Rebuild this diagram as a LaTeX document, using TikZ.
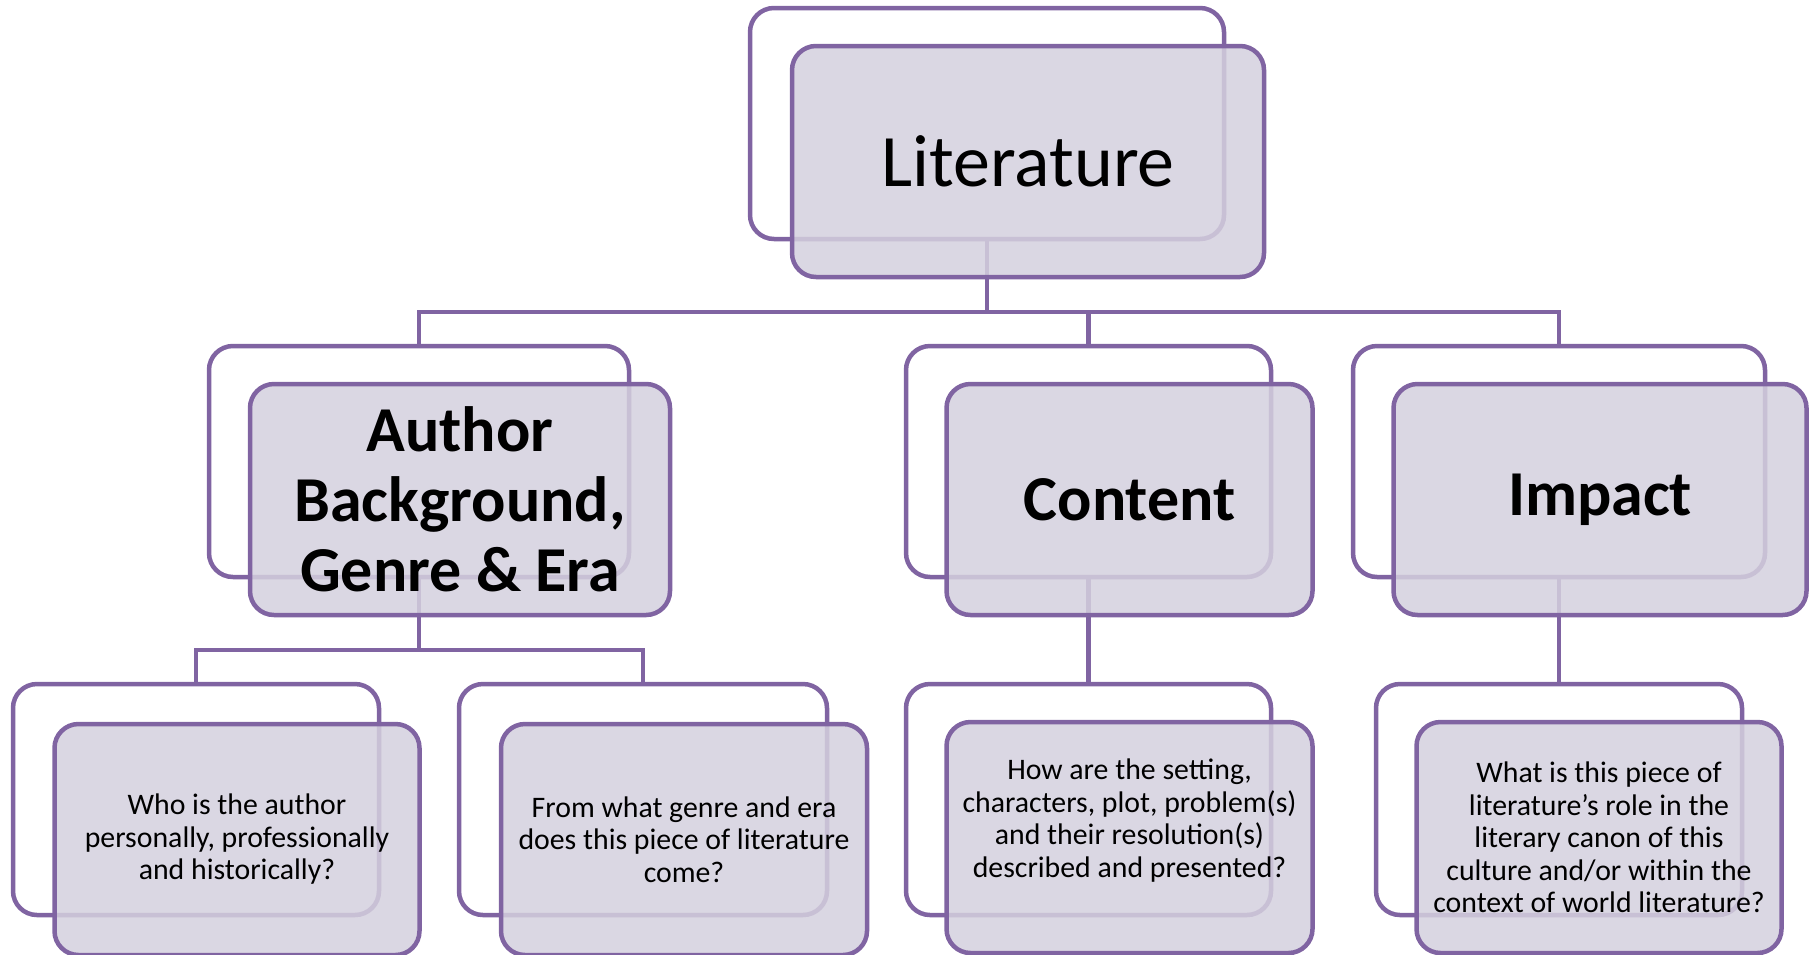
\documentclass[tikz,border=0pt]{standalone}
\usepackage{fontspec}
\setmainfont{Carlito}
\definecolor{boxline}{RGB}{128,100,162}
\definecolor{boxfill}{RGB}{212,208,222}
\tikzset{
  backbox/.style={draw=boxline, line width=4.5pt, rounded corners=24pt,
    minimum height=231pt, inner sep=0pt},
  frontbox/.style={backbox, fill=boxfill, fill opacity=0.86, text opacity=1,
    align=center},
  conn/.style={draw=boxline, line width=4.5pt},
  toptext/.style={font=\fontsize{74}{80}\selectfont},
  midtext/.style={font=\bfseries\fontsize{64}{70}\selectfont},
  lowtext/.style={font=\fontsize{29.8}{32.5}\selectfont},
}
\begin{document}
\begin{tikzpicture}[x=1pt,y=-1pt]
  \useasboundingbox (0,0) rectangle (1814,954);
  % back boxes
  \node[backbox, minimum width=474pt] (litback) at (987,123.5) {};
  \node[backbox, minimum width=420pt] (authback) at (419,461.5) {};
  \node[backbox, minimum width=365pt] (contback) at (1088.5,461.5) {};
  \node[backbox, minimum width=412pt] (impback) at (1559,461.5) {};
  \node[backbox, minimum width=366pt] (whoback) at (196,799.5) {};
  \node[backbox, minimum width=368pt] (genreback) at (643,799.5) {};
  \node[backbox, minimum width=365pt] (howback) at (1088.5,799.5) {};
  \node[backbox, minimum width=366pt] (roleback) at (1559,799.5) {};
  % connectors
  \coordinate (bus1) at (0,312);
  \coordinate (bus2) at (0,650);
  \draw[conn] (litback.south) -- (litback.south |- bus1);
  \draw[conn] (authback.north) |- (impback.north |- bus1) -- (impback.north);
  \draw[conn] (contback.north) -- (contback.north |- bus1);
  \draw[conn] (authback.south) -- (authback.south |- bus2);
  \draw[conn] (whoback.north) |- (genreback.north |- bus2) -- (genreback.north);
  \draw[conn] (contback.south) -- (howback.north);
  \draw[conn] (impback.south) -- (roleback.north);
  % front boxes
  \node[frontbox, toptext, minimum width=472pt] (litfront)
    at ([shift={(41,38)}]litback) {Literature};
  \node[frontbox, midtext, minimum width=420pt] (authfront)
    at ([shift={(41,38)}]authback) {Author\\Background,\\Genre \& Era};
  \node[frontbox, midtext, minimum width=366pt] (contfront)
    at ([shift={(41,38)}]contback) {Content};
  \node[frontbox, midtext, minimum width=413pt] (impfront)
    at ([shift={(41,38)}]impback) {Impact};
  \node[frontbox, lowtext, minimum width=365pt] (whofront)
    at ([shift={(41,40)}]whoback) {Who is the author\\personally, professionally\\and historically?};
  \node[frontbox, lowtext, minimum width=366pt] (genrefront)
    at ([shift={(41,40)}]genreback) {From what genre and era\\does this piece of literature\\come?};
  \node[frontbox, lowtext, minimum width=366pt] (howfront)
    at ([shift={(41,38)}]howback) {How are the setting,\\characters, plot, problem(s)\\and their resolution(s)\\described and presented?\\[6pt]~};
  \node[frontbox, lowtext, minimum width=365pt] (rolefront)
    at ([shift={(40,38)}]roleback) {What is this piece of\\literature’s role in the\\literary canon of this\\culture and/or within the\\context of world literature?};
\end{tikzpicture}
\end{document}
